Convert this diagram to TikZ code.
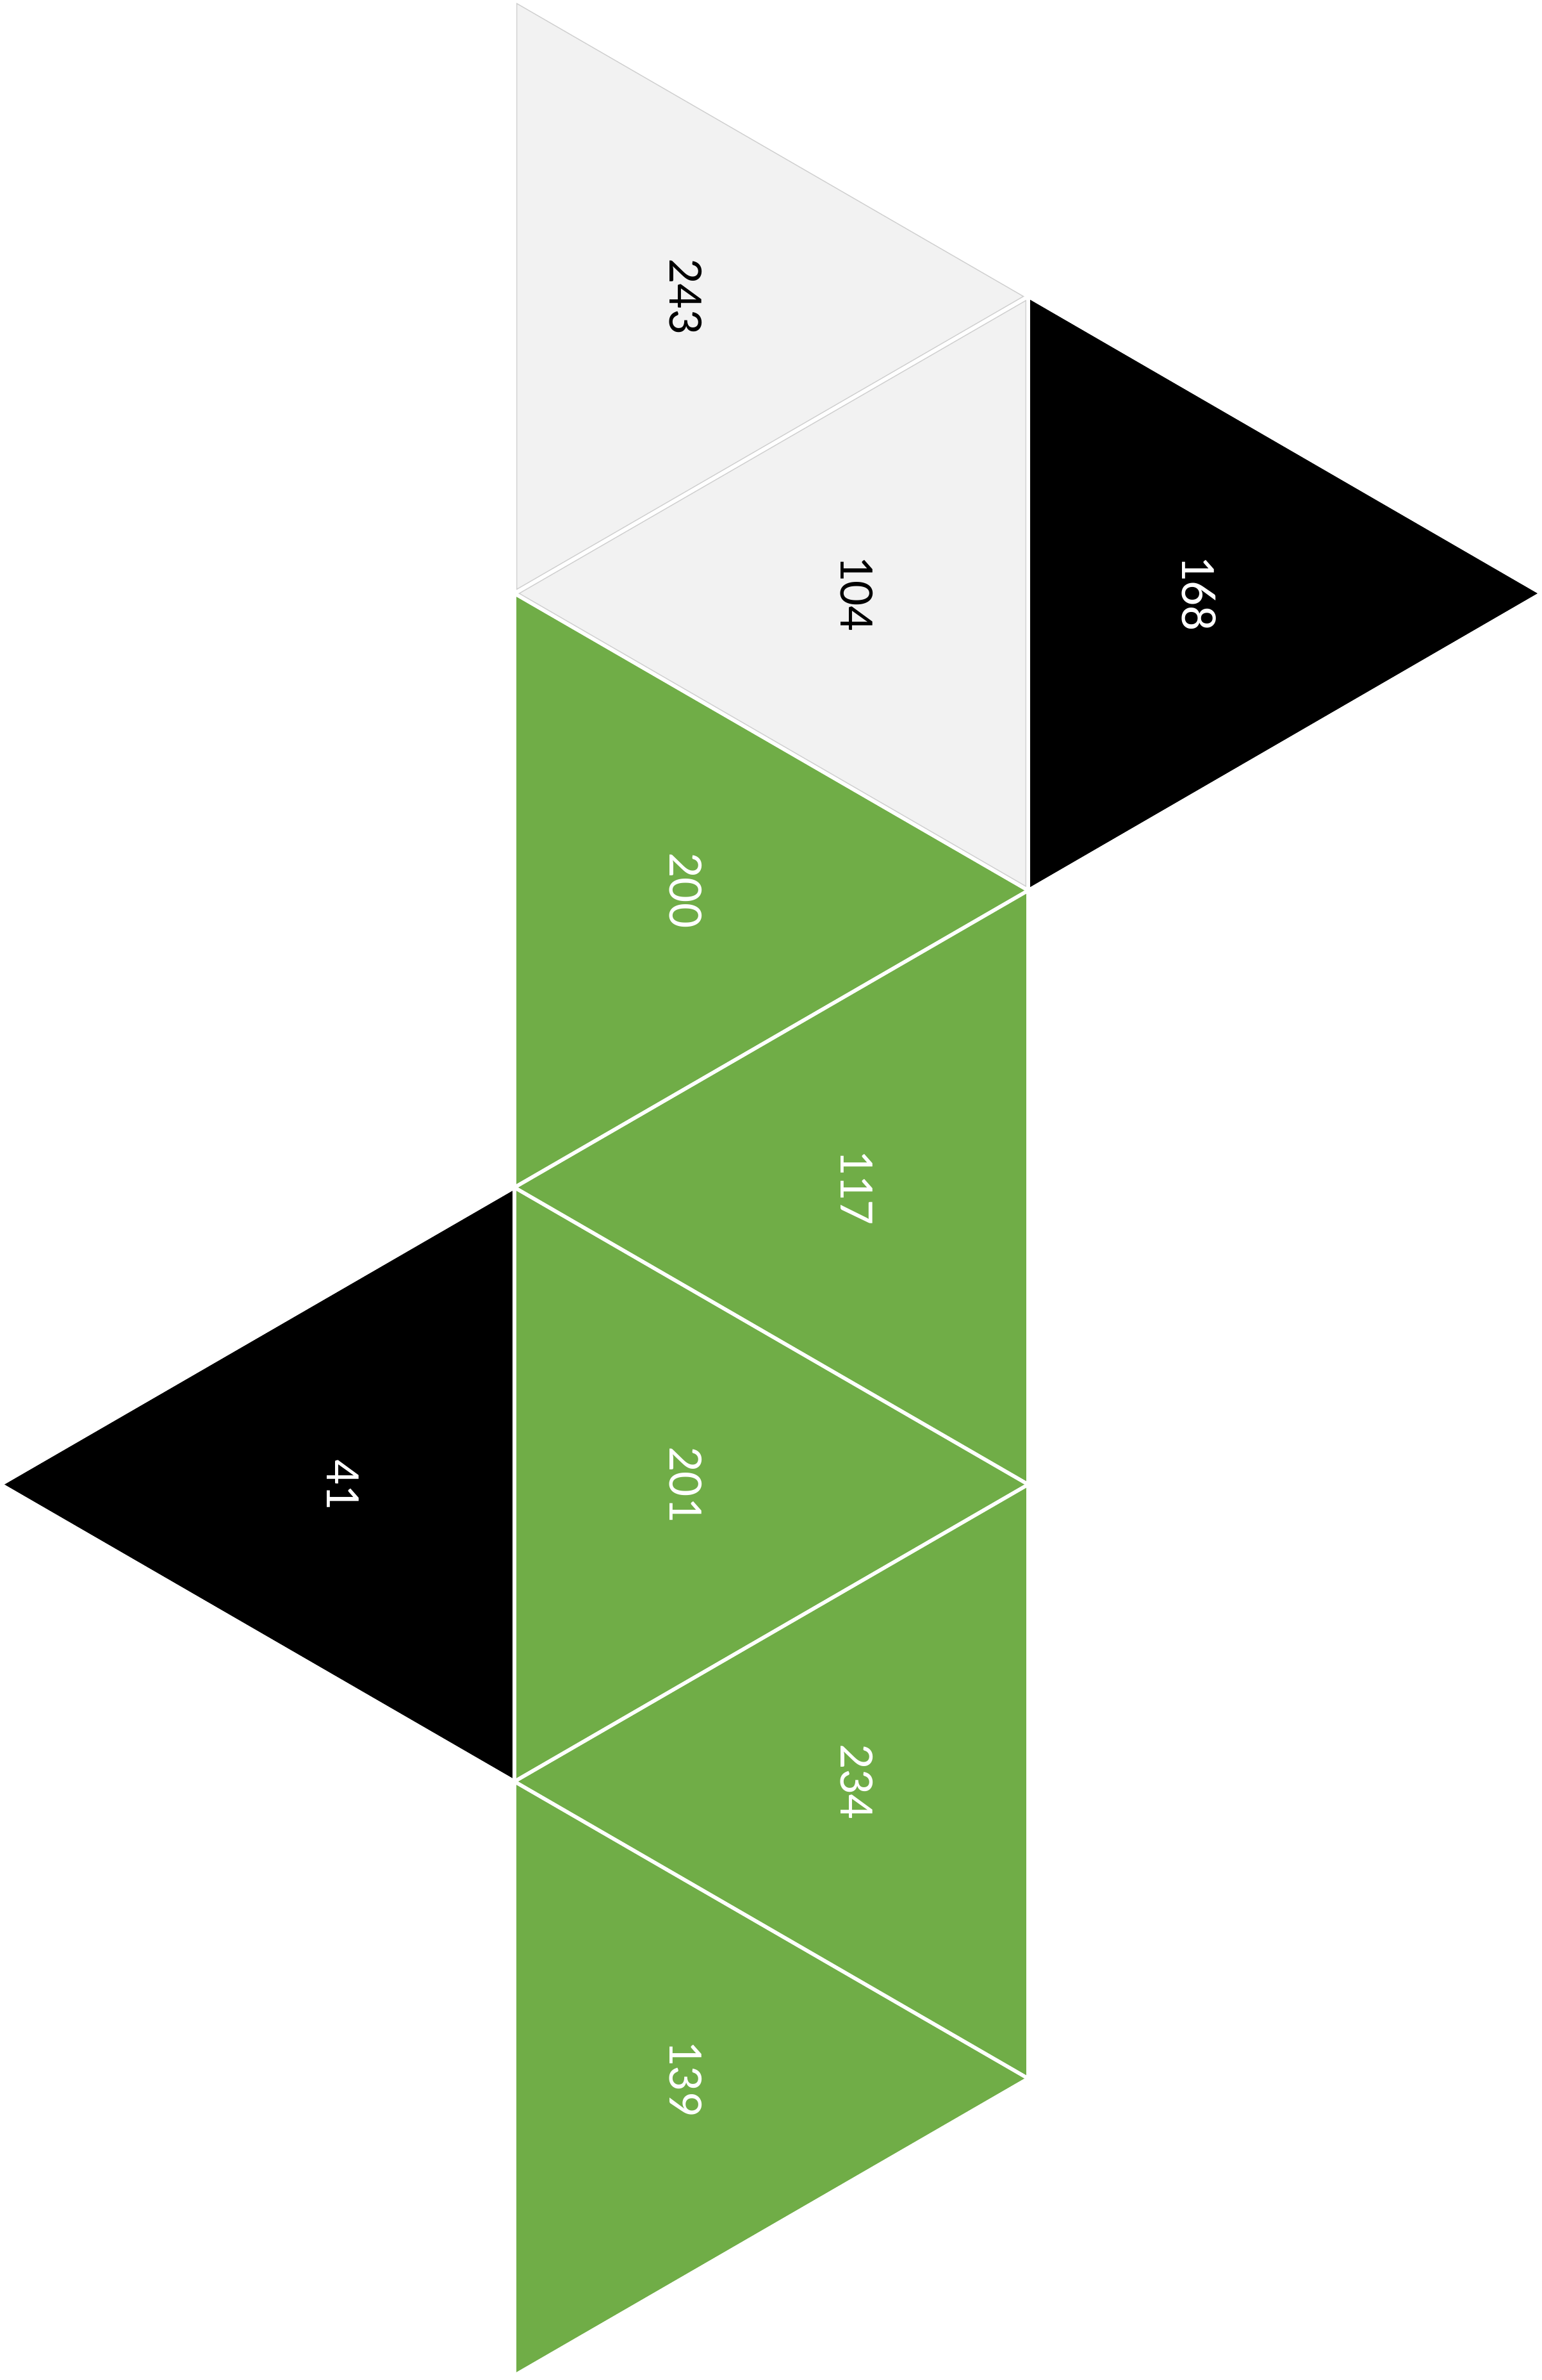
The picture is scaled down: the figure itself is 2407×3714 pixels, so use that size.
\documentclass[tikz,border=0pt]{standalone}
\usepackage{fontspec}
\setmainfont{Carlito}
\usetikzlibrary{calc}
\definecolor{facegreen}{HTML}{70AD47}
\definecolor{facegray}{HTML}{F2F2F2}
\definecolor{edgegray}{HTML}{D0D0D0}

\begin{document}
\begin{tikzpicture}[x=0.01cm, y=-0.01cm,
    facelabel/.style={font=\fontsize{22}{26}\selectfont, rotate=-90, inner sep=0pt}]
  \useasboundingbox (0,0) rectangle (2407,3714);
  % faces of the net: corners, fill, edge, text colour, label
  \foreach \ax/\ay/\bx/\by/\cx/\cy/\fc/\ec/\tc/\lab in {
      803/-1/1605/462.5/803/926/facegray/edgegray/black/243,
      1605/462.5/1605/1389.5/803/926/facegray/edgegray/black/104,
      1605/462.5/2406/926/1605/1389.5/black/black/white/168,
      803/926/1605/1389.5/803/1853/facegreen/facegreen/white/200,
      1605/1389.5/1605/2316.5/803/1853/facegreen/facegreen/white/117,
      803/1853/1/2316.5/803/2780/black/black/white/41,
      803/1853/1605/2316.5/803/2780/facegreen/facegreen/white/201,
      1605/2316.5/1605/3243.5/803/2780/facegreen/facegreen/white/234,
      803/2780/1605/3243.5/803/3707/facegreen/facegreen/white/139}{
    \coordinate (a) at (\ax,\ay);
    \coordinate (b) at (\bx,\by);
    \coordinate (c) at (\cx,\cy);
    \coordinate (g) at (barycentric cs:a=1,b=1,c=1);
    \filldraw[fill=\fc, draw=\ec, line width=0.4pt]
      ($(g)!0.986!(a)$) -- ($(g)!0.986!(b)$) -- ($(g)!0.986!(c)$) -- cycle;
    \node[facelabel, text=\tc] (f\lab) at (g) {\lab};
  }
\end{tikzpicture}
\end{document}
